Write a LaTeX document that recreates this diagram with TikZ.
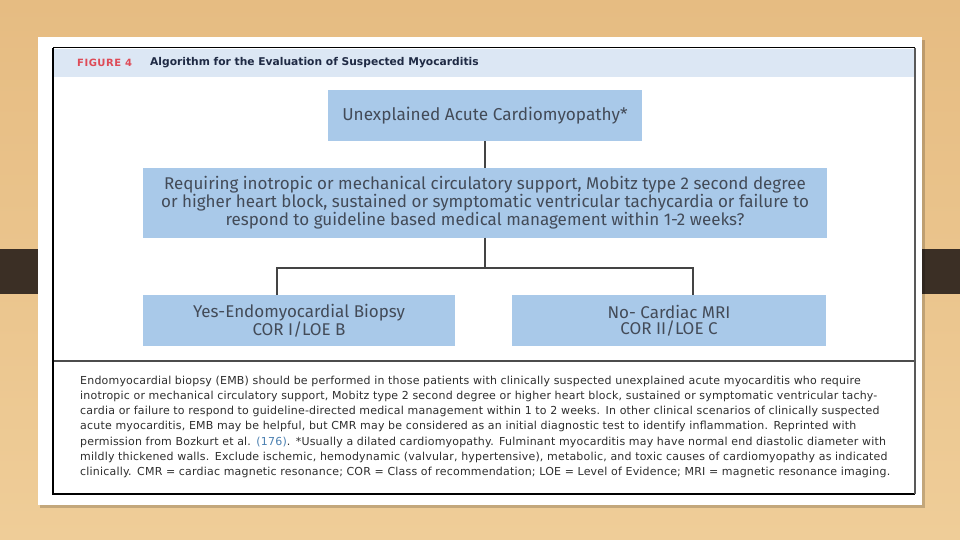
\documentclass[tikz,border=0pt]{standalone}
\usepackage{fontspec}
\setmainfont{DejaVu Sans}
\newfontfamily\boxfont{Fira Sans}
\newfontfamily\capfont{DejaVu Sans}
\newfontfamily\titlefont{DejaVu Sans}
\definecolor{bgtop}{HTML}{E6BC82}
\definecolor{bgbot}{HTML}{EFCD98}
\definecolor{sidebar}{HTML}{3B2F25}
\definecolor{headblue}{HTML}{DCE7F4}
\definecolor{boxblue}{HTML}{A9C9E9}
\definecolor{boxtext}{HTML}{434B58}
\definecolor{linegrey}{HTML}{444444}
\definecolor{figred}{HTML}{DE4B57}
\definecolor{titlenavy}{HTML}{1F2A44}
\definecolor{captext}{HTML}{2E2E2E}
\definecolor{refblue}{HTML}{4A7FB0}
\tikzset{
  flowbox/.style={fill=boxblue, text=boxtext, align=center, inner sep=0pt,
    font=\boxfont\fontsize{17}{16.3}\selectfont},
  conn/.style={draw=linegrey, line width=2pt},
}
\begin{document}
\begin{tikzpicture}[x=1pt,y=-1pt]
\useasboundingbox (0,0) rectangle (960,540);
% background
\shade[top color=bgtop, bottom color=bgbot] (0,0) rectangle (960,540);
\fill[sidebar] (0,249) rectangle (40,294);
\fill[sidebar] (917,249) rectangle (960,294);
% white panel with shadow
\fill[black, opacity=0.18] (40,40) rectangle (925,508);
\fill[white] (38,37) rectangle (922,505);
% header
\fill[headblue] (54,49) rectangle (914,77);
% frame
\draw[black, line width=1pt] (53,48) -- (915,48);
\draw[black, line width=2pt] (53,48) -- (53,494) -- (915,494);
\draw[black!65, line width=2.5pt] (915,48) -- (915,494);
\draw[black!70, line width=1.5pt] (54,361) -- (914,361);
% title
\node[anchor=west, inner sep=0pt, text=figred, font=\titlefont\bfseries\fontsize{10}{11}\selectfont\addfontfeatures{LetterSpace=5}] (figlab) at (77,63) {FIGURE 4};
\node[anchor=west, inner sep=0pt, text=titlenavy, font=\titlefont\bfseries\fontsize{10.7}{11}\selectfont] (title) at (150,63) {Algorithm for the Evaluation of Suspected Myocarditis};
% boxes
\node[flowbox, minimum width=314pt, minimum height=51pt, font=\boxfont\fontsize{17.2}{17}\selectfont] (b1) at (485,115.5) {Unexplained Acute Cardiomyopathy*};
\node[flowbox, minimum width=684pt, minimum height=69pt] (b2) at (485,203) {\raisebox{-2pt}{\parbox{684pt}{\centering Requiring inotropic or mechanical circulatory support, Mobitz type 2 second degree\\or higher heart block, sustained or symptomatic ventricular tachycardia or failure to\\respond to guideline based medical management within 1-2 weeks?}}};
\node[flowbox, minimum width=312pt, minimum height=51pt] (b3) at (299,320.5) {Yes-Endomyocardial Biopsy\\COR I/LOE B};
\node[flowbox, minimum width=314pt, minimum height=51pt] (b4) at (669,320.5) {No- Cardiac MRI\\COR II/LOE C};
% connectors
\coordinate (j) at (485,268);
\coordinate (jl) at (277,268);
\coordinate (jr) at (693,268);
\draw[conn] (b1) -- (b2);
\draw[conn] (b2) -- (j);
\draw[conn] ([xshift=-1pt]jl) -- ([xshift=1pt]jr);
\draw[conn] (jl) -- (jl |- b3.north);
\draw[conn] (jr) -- (jr |- b4.north);
% caption
\node[anchor=north west, inner sep=0pt, text=captext, align=left, text width=840pt,
  font=\capfont\fontsize{11}{15.3}\selectfont\addfontfeatures{LetterSpace=1.8}] (caption) at (80,375.5) {%
Endomyocardial biopsy (EMB) should be performed in those patients with clinically suspected unexplained acute myocarditis who require\\
inotropic or mechanical circulatory support, Mobitz type 2 second degree or higher heart block, sustained or symptomatic ventricular tachy-\\
cardia or failure to respond to guideline-directed medical management within 1 to 2 weeks. In other clinical scenarios of clinically suspected\\
acute myocarditis, EMB may be helpful, but CMR may be considered as an initial diagnostic test to identify inflammation. Reprinted with\\
permission from Bozkurt et al. \textcolor{refblue}{(176)}. *Usually a dilated cardiomyopathy. Fulminant myocarditis may have normal end diastolic diameter with\\
mildly thickened walls. Exclude ischemic, hemodynamic (valvular, hypertensive), metabolic, and toxic causes of cardiomyopathy as indicated\\
clinically. CMR = cardiac magnetic resonance; COR = Class of recommendation; LOE = Level of Evidence; MRI = magnetic resonance imaging.};
\end{tikzpicture}
\end{document}
